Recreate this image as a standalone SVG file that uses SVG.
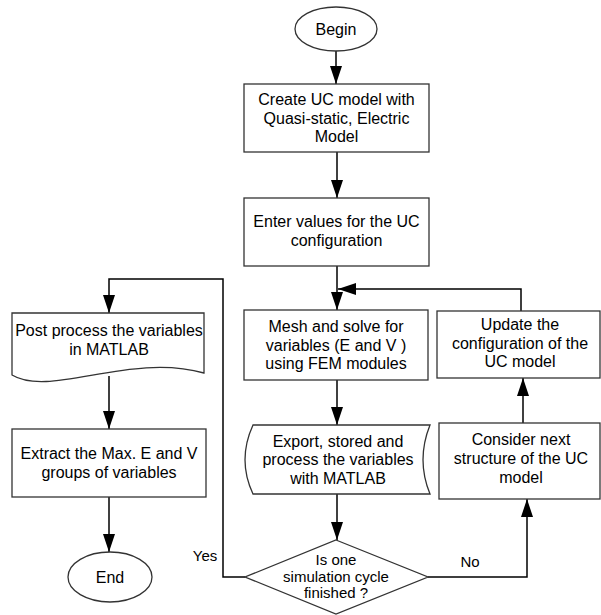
<svg xmlns="http://www.w3.org/2000/svg" width="601" height="615" viewBox="0 0 601 615">
<style>
.s{fill:#fff;stroke:#333;stroke-width:1.3}
.c{fill:none;stroke:#000;stroke-width:1.5}
text{font-family:"Liberation Sans",Arial,sans-serif;font-size:16px;fill:#000;text-anchor:middle}
.d{font-size:15px}
</style>
<defs>
<marker id="a" markerUnits="userSpaceOnUse" markerWidth="18" markerHeight="12" refX="18" refY="6" orient="auto">
<path d="M0,0 L18,6 L0,12 z" fill="#000"/>
</marker>
</defs>
<g id="connectors">
<path class="c" d="M336,51 V84" marker-end="url(#a)"/>
<path class="c" d="M337,152 V198" marker-end="url(#a)"/>
<path class="c" d="M337,266 V310" marker-end="url(#a)"/>
<path class="c" d="M521,311 V289 H338" marker-end="url(#a)"/>
<path class="c" d="M337,380 V425" marker-end="url(#a)"/>
<path class="c" d="M337,494 V540" marker-end="url(#a)"/>
<path class="c" d="M428,577 H527 V499" marker-end="url(#a)"/>
<path class="c" d="M523,423 V378" marker-end="url(#a)"/>
<path class="c" d="M245,577 H223 V279 H109 V313" marker-end="url(#a)"/>
<path class="c" d="M109,376 V429" marker-end="url(#a)"/>
<path class="c" d="M109,497 V552" marker-end="url(#a)"/>
<text x="205" y="561" class="d">Yes</text>
<text x="470" y="567" class="d">No</text>
</g>
<g id="begin">
<ellipse class="s" cx="336" cy="29" rx="41" ry="22"/>
<text x="336" y="35">Begin</text>
</g>
<g id="create">
<rect class="s" x="244" y="84" width="185" height="68"/>
<text x="336.5" y="105">Create UC model with</text>
<text x="336.5" y="123.5">Quasi-static, Electric</text>
<text x="336.5" y="142">Model</text>
</g>
<g id="enter">
<rect class="s" x="244" y="198" width="185" height="68"/>
<text x="336.5" y="227">Enter values for the UC</text>
<text x="336.5" y="245.5">configuration</text>
</g>
<g id="mesh">
<rect class="s" x="244" y="310" width="184" height="70"/>
<text x="336" y="332">Mesh and solve for</text>
<text x="336" y="350.5">variables (E and V )</text>
<text x="336" y="369">using FEM modules</text>
</g>
<g id="export">
<path class="s" d="M253,425 H430 Q416,460 430,494 H253 Q237,460 253,425 Z"/>
<text x="338" y="447">Export, stored and</text>
<text x="338" y="465">process the variables</text>
<text x="338" y="483.5">with MATLAB</text>
</g>
<g id="decision">
<polygon class="s" points="336,540 428,577 336,614 245,577"/>
<text x="336" y="565" class="d">Is one</text>
<text x="336" y="581.5" class="d">simulation cycle</text>
<text x="336" y="598" class="d">finished ?</text>
</g>
<g id="update">
<rect class="s" x="437" y="311" width="163" height="67"/>
<text x="520" y="330">Update the</text>
<text x="520" y="348.5">configuration of the</text>
<text x="520" y="367">UC model</text>
</g>
<g id="consider">
<rect class="s" x="439" y="423" width="161" height="76"/>
<text x="521" y="445">Consider next</text>
<text x="521" y="464">structure of the UC</text>
<text x="521" y="483">model</text>
</g>
<g id="post">
<path class="s" d="M12,313 H204 V373 C130,352 50,398 12,375 Z"/>
<text x="109" y="336">Post process the variables</text>
<text x="109" y="354.5">in MATLAB</text>
</g>
<g id="extract">
<rect class="s" x="12" y="429" width="194" height="68"/>
<text x="109" y="459">Extract the Max. E and V</text>
<text x="109" y="477.5">groups of variables</text>
</g>
<g id="end">
<ellipse class="s" cx="110" cy="577" rx="42" ry="25"/>
<text x="110" y="583">End</text>
</g>
</svg>
